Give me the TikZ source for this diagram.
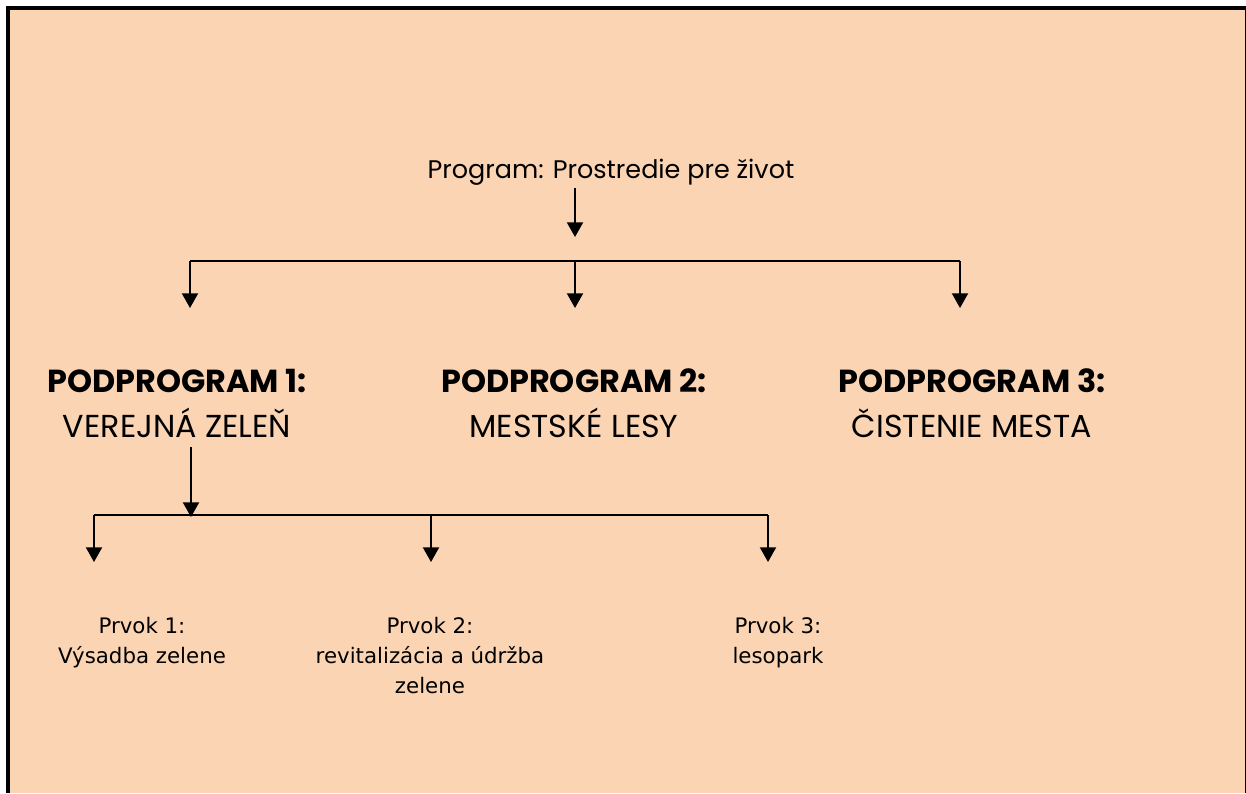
\documentclass[tikz,border=0pt]{standalone}
\usepackage{fontspec}
\setmainfont{Poppins}
\newfontfamily\prvokfont{DejaVu Sans}
\usetikzlibrary{arrows.meta,positioning}
\definecolor{pozadie}{HTML}{FBD4B4}
\tikzset{
  sipka/.style={line width=1.5pt,-{Triangle[width=12pt,length=11pt]}},
  ciara/.style={line width=1.5pt},
  program/.style={font=\fontsize{19.1}{24}\selectfont,inner sep=2pt},
  podprog/.style={font=\fontsize{23.8}{33.75}\selectfont,align=center,inner sep=2pt},
  prvok/.style={font=\prvokfont\fontsize{16}{22.5}\selectfont,align=center,inner sep=2pt}
}
\begin{document}
\begin{tikzpicture}[x=0.75pt,y=-0.75pt]
\useasboundingbox (0,0) rectangle (1246,793);
%Hintergrund und Rahmen (unten offen)
\fill[pozadie] (10,10) rectangle (1246,793);
\draw[line width=3pt] (8,793) -- (8,8) -- (1246.5,8) -- (1246.5,793);
%Program
\node[program,anchor=base] (prog) at (611,178) {Program: Prostredie pre život};
\coordinate (v1) at (575,237);
\coordinate (f1) at (575,261);
\coordinate (l1) at (190,261);
\coordinate (r1) at (960,261);
\coordinate (t1) at (190,308);
\coordinate (t2) at (575,308);
\coordinate (t3) at (960,308);
\draw[sipka] (prog.south -| v1) -- (v1);
\draw[ciara] (l1) -- (r1);
\foreach \a/\b in {l1/t1,f1/t2,r1/t3}{
\draw[sipka] (\a) -- (\b);
}
%Podprogramy (base = letzte Zeile)
\node[podprog,anchor=base] (pp1) at (177,437) {{\bfseries\fontsize{23.9}{33.75}\selectfont PODPROGRAM 1:}\\VEREJNÁ ZELEŇ};
\node[podprog,anchor=base] (pp2) at (574,437) {{\bfseries\fontsize{23.9}{33.75}\selectfont PODPROGRAM 2:}\\MESTSKÉ LESY};
\node[podprog,anchor=base] (pp3) at (972,437) {{\bfseries\fontsize{23.9}{33.75}\selectfont PODPROGRAM 3:}\\ČISTENIE MESTA};
%Prvky
\coordinate (f2) at (191,517);
\coordinate (l2) at (94,515);
\coordinate (m2) at (431,515);
\coordinate (r2) at (768,515);
\coordinate (u1) at (94,562);
\coordinate (u2) at (431,562);
\coordinate (u3) at (768,562);
\draw[sipka] ([yshift=-5pt]pp1.south -| f2) -- (f2);
\draw[ciara] (l2) -- (r2);
\foreach \a/\b in {l2/u1,m2/u2,r2/u3}{
\draw[sipka] (\a) -- (\b);
}
\node[prvok,anchor=base] (pr1) at (142,663) {Prvok 1:\\Výsadba zelene};
\node[prvok,anchor=base] (pr2) at (430,693) {Prvok 2:\\revitalizácia a údržba\\zelene};
\node[prvok,anchor=base] (pr3) at (778,663) {Prvok 3:\\lesopark};
\end{tikzpicture}
\end{document}
